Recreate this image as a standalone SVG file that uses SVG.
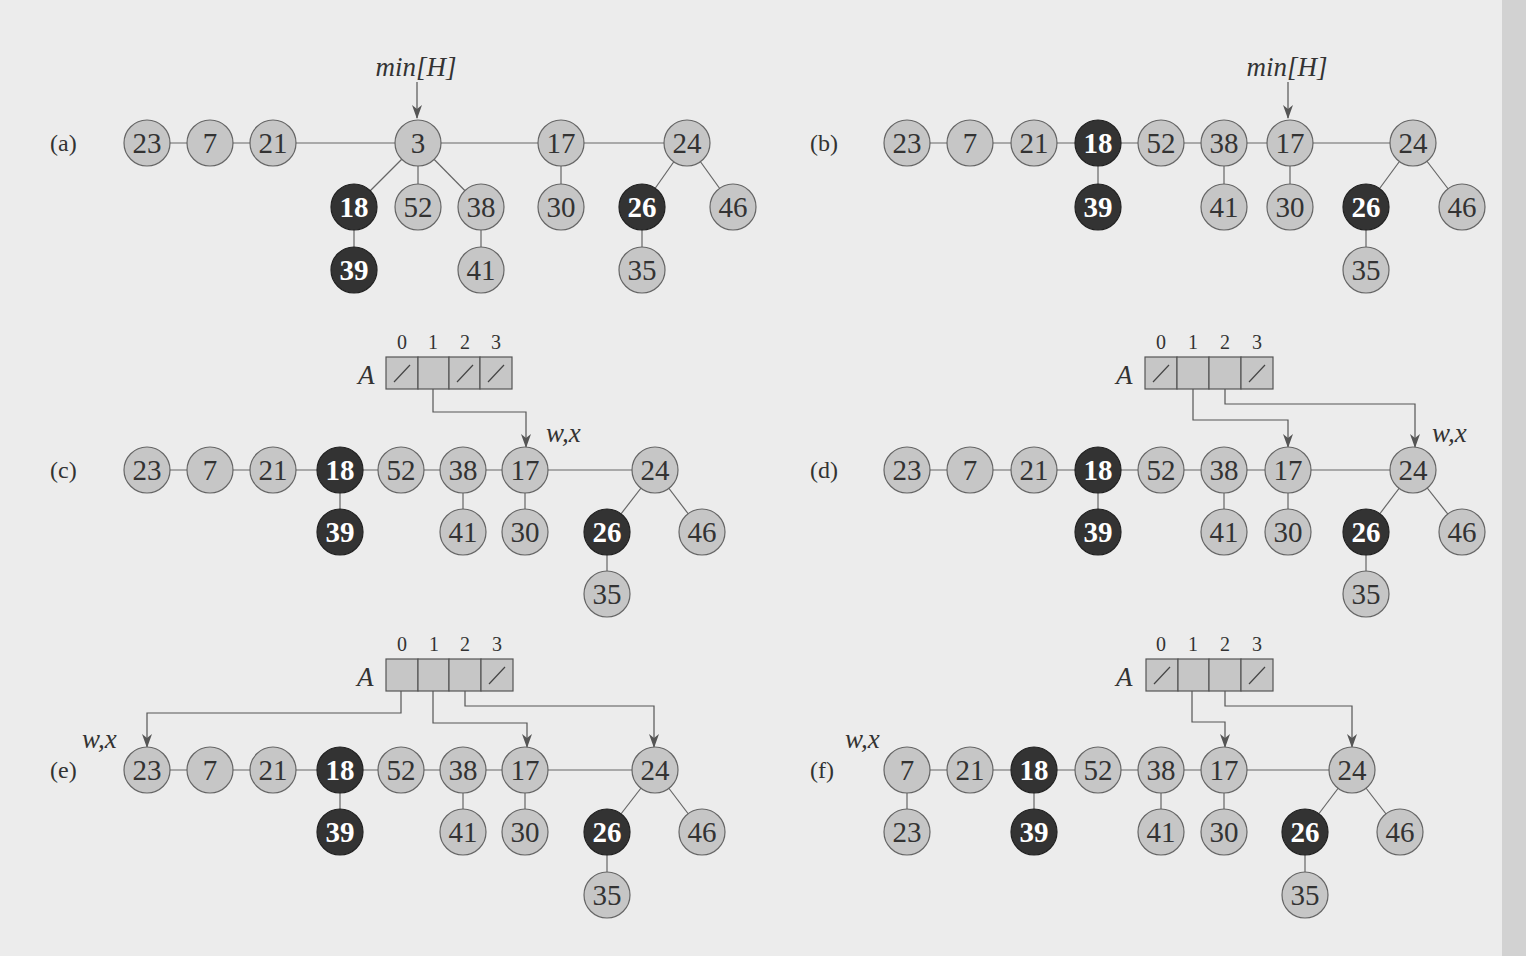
<svg xmlns="http://www.w3.org/2000/svg" width="1526" height="956" viewBox="0 0 1526 956">
<defs>
<marker id="ah" markerWidth="14" markerHeight="10" refX="13" refY="5" orient="auto" markerUnits="userSpaceOnUse" viewBox="0 0 14 10">
<path d="M0,0 L14,5 L0,10 L4,5 Z" fill="#555"/>
</marker>
<style>
.bg{fill:#ececec}
.n circle{fill:#c6c6c6;stroke:#666;stroke-width:1.2}
.n text{font-family:"Liberation Serif","Times New Roman",serif;font-size:29px;fill:#333;text-anchor:middle;dominant-baseline:central}
.d circle{fill:#333;stroke:#222;stroke-width:1.2}
.d text{font-family:"Liberation Serif","Times New Roman",serif;font-size:29px;font-weight:bold;fill:#fff;text-anchor:middle;dominant-baseline:central}
.e line{stroke:#666;stroke-width:1.2;fill:none}
.p{stroke:#555;stroke-width:1.2;fill:none;marker-end:url(#ah)}
.lbl{font-family:"Liberation Serif","Times New Roman",serif;font-size:24px;fill:#333;dominant-baseline:central}
.it{font-family:"Liberation Serif","Times New Roman",serif;font-size:27px;font-style:italic;fill:#333}
.idx{font-family:"Liberation Serif","Times New Roman",serif;font-size:20px;fill:#333;text-anchor:middle}
.cell{fill:#c6c6c6;stroke:#555;stroke-width:1.2}
.sl{stroke:#444;stroke-width:1.2}
</style>
</defs>
<rect class="bg" x="0" y="0" width="1526" height="956"/>
<rect x="1502" y="0" width="24" height="956" fill="#d2d2d2"/>

<g id="connectors" class="e">
<!-- (a) -->
<line x1="147" y1="143" x2="687" y2="143"/>
<line x1="418" y1="143" x2="354" y2="207"/>
<line x1="418" y1="143" x2="418" y2="207"/>
<line x1="418" y1="143" x2="481" y2="207"/>
<line x1="481" y1="207" x2="481" y2="270"/>
<line x1="354" y1="207" x2="354" y2="270"/>
<line x1="561" y1="143" x2="561" y2="207"/>
<line x1="687" y1="143" x2="642" y2="207"/>
<line x1="687" y1="143" x2="733" y2="207"/>
<line x1="642" y1="207" x2="642" y2="270"/>
<path class="p" d="M417,82 L417,118"/>
<!-- (b) -->
<line x1="907" y1="143" x2="1413" y2="143"/>
<line x1="1098" y1="143" x2="1098" y2="207"/>
<line x1="1224" y1="143" x2="1224" y2="207"/>
<line x1="1290" y1="143" x2="1290" y2="207"/>
<line x1="1413" y1="143" x2="1366" y2="207"/>
<line x1="1413" y1="143" x2="1462" y2="207"/>
<line x1="1366" y1="207" x2="1366" y2="270"/>
<path class="p" d="M1288,82 L1288,118"/>
<!-- (c) -->
<line x1="147" y1="470" x2="655" y2="470"/>
<line x1="340" y1="470" x2="340" y2="532"/>
<line x1="463" y1="470" x2="463" y2="532"/>
<line x1="525" y1="470" x2="525" y2="532"/>
<line x1="655" y1="470" x2="607" y2="532"/>
<line x1="655" y1="470" x2="702" y2="532"/>
<line x1="607" y1="532" x2="607" y2="594"/>
<path class="p" d="M433,374 L433,412 L526,412 L526,447"/>
<!-- (d) -->
<line x1="907" y1="470" x2="1413" y2="470"/>
<line x1="1098" y1="470" x2="1098" y2="532"/>
<line x1="1224" y1="470" x2="1224" y2="532"/>
<line x1="1288" y1="470" x2="1288" y2="532"/>
<line x1="1413" y1="470" x2="1366" y2="532"/>
<line x1="1413" y1="470" x2="1462" y2="532"/>
<line x1="1366" y1="532" x2="1366" y2="594"/>
<path class="p" d="M1193,374 L1193,420 L1288,420 L1288,447"/>
<path class="p" d="M1225,374 L1225,404 L1415,404 L1415,447"/>
<!-- (e) -->
<line x1="147" y1="770" x2="655" y2="770"/>
<line x1="340" y1="770" x2="340" y2="832"/>
<line x1="463" y1="770" x2="463" y2="832"/>
<line x1="525" y1="770" x2="525" y2="832"/>
<line x1="655" y1="770" x2="607" y2="832"/>
<line x1="655" y1="770" x2="702" y2="832"/>
<line x1="607" y1="832" x2="607" y2="895"/>
<path class="p" d="M401,675 L401,713 L147,713 L147,747"/>
<path class="p" d="M433,675 L433,723 L527,723 L527,747"/>
<path class="p" d="M465,675 L465,706 L654,706 L654,747"/>
<!-- (f) -->
<line x1="907" y1="770" x2="1352" y2="770"/>
<line x1="907" y1="770" x2="907" y2="832"/>
<line x1="1034" y1="770" x2="1034" y2="832"/>
<line x1="1161" y1="770" x2="1161" y2="832"/>
<line x1="1224" y1="770" x2="1224" y2="832"/>
<line x1="1352" y1="770" x2="1305" y2="832"/>
<line x1="1352" y1="770" x2="1400" y2="832"/>
<line x1="1305" y1="832" x2="1305" y2="895"/>
<path class="p" d="M1192,675 L1192,722 L1225,722 L1225,747"/>
<path class="p" d="M1225,675 L1225,706 L1352,706 L1352,747"/>
</g>

<g id="labels">
<text class="lbl" x="50" y="143">(a)</text>
<text class="lbl" x="810" y="143">(b)</text>
<text class="lbl" x="50" y="470">(c)</text>
<text class="lbl" x="810" y="470">(d)</text>
<text class="lbl" x="50" y="770">(e)</text>
<text class="lbl" x="810" y="770">(f)</text>
<text class="it" x="416" y="76" text-anchor="middle">min[H]</text>
<text class="it" x="1287" y="76" text-anchor="middle">min[H]</text>
<text class="it" x="546" y="442">w,x</text>
<text class="it" x="1432" y="442">w,x</text>
<text class="it" x="82" y="748">w,x</text>
<text class="it" x="845" y="748">w,x</text>
</g>

<g id="array-c">
<text class="it" x="358" y="384">A</text>
<text class="idx" x="402" y="349">0</text><text class="idx" x="433" y="349">1</text><text class="idx" x="465" y="349">2</text><text class="idx" x="496" y="349">3</text>
<rect class="cell" x="386" y="357" width="32" height="32"/><rect class="cell" x="418" y="357" width="31" height="32"/><rect class="cell" x="449" y="357" width="31" height="32"/><rect class="cell" x="480" y="357" width="32" height="32"/>
<line class="sl" x1="394" y1="382" x2="410" y2="365"/><line class="sl" x1="457" y1="382" x2="473" y2="365"/><line class="sl" x1="488" y1="382" x2="504" y2="365"/>
</g>
<g id="array-d">
<text class="it" x="1116" y="384">A</text>
<text class="idx" x="1161" y="349">0</text><text class="idx" x="1193" y="349">1</text><text class="idx" x="1225" y="349">2</text><text class="idx" x="1257" y="349">3</text>
<rect class="cell" x="1145" y="357" width="32" height="32"/><rect class="cell" x="1177" y="357" width="32" height="32"/><rect class="cell" x="1209" y="357" width="32" height="32"/><rect class="cell" x="1241" y="357" width="32" height="32"/>
<line class="sl" x1="1153" y1="382" x2="1169" y2="365"/><line class="sl" x1="1249" y1="382" x2="1265" y2="365"/>
</g>
<g id="array-e">
<text class="it" x="357" y="686">A</text>
<text class="idx" x="402" y="651">0</text><text class="idx" x="434" y="651">1</text><text class="idx" x="465" y="651">2</text><text class="idx" x="497" y="651">3</text>
<rect class="cell" x="386" y="659" width="32" height="32"/><rect class="cell" x="418" y="659" width="31" height="32"/><rect class="cell" x="449" y="659" width="32" height="32"/><rect class="cell" x="481" y="659" width="32" height="32"/>
<line class="sl" x1="489" y1="684" x2="505" y2="667"/>
</g>
<g id="array-f">
<text class="it" x="1116" y="686">A</text>
<text class="idx" x="1161" y="651">0</text><text class="idx" x="1193" y="651">1</text><text class="idx" x="1225" y="651">2</text><text class="idx" x="1257" y="651">3</text>
<rect class="cell" x="1146" y="659" width="32" height="32"/><rect class="cell" x="1178" y="659" width="31" height="32"/><rect class="cell" x="1209" y="659" width="32" height="32"/><rect class="cell" x="1241" y="659" width="32" height="32"/>
<line class="sl" x1="1154" y1="684" x2="1170" y2="667"/><line class="sl" x1="1249" y1="684" x2="1265" y2="667"/>
</g>

<g id="a23" class="n"><circle cx="147" cy="143" r="23"/><text x="147" y="143">23</text></g>
<g id="a7" class="n"><circle cx="210" cy="143" r="23"/><text x="210" y="143">7</text></g>
<g id="a21" class="n"><circle cx="273" cy="143" r="23"/><text x="273" y="143">21</text></g>
<g id="a3" class="n"><circle cx="418" cy="143" r="23"/><text x="418" y="143">3</text></g>
<g id="a17" class="n"><circle cx="561" cy="143" r="23"/><text x="561" y="143">17</text></g>
<g id="a24" class="n"><circle cx="687" cy="143" r="23"/><text x="687" y="143">24</text></g>
<g id="a18" class="d"><circle cx="354" cy="207" r="23"/><text x="354" y="207">18</text></g>
<g id="a52" class="n"><circle cx="418" cy="207" r="23"/><text x="418" y="207">52</text></g>
<g id="a38" class="n"><circle cx="481" cy="207" r="23"/><text x="481" y="207">38</text></g>
<g id="a30" class="n"><circle cx="561" cy="207" r="23"/><text x="561" y="207">30</text></g>
<g id="a26" class="d"><circle cx="642" cy="207" r="23"/><text x="642" y="207">26</text></g>
<g id="a46" class="n"><circle cx="733" cy="207" r="23"/><text x="733" y="207">46</text></g>
<g id="a39" class="d"><circle cx="354" cy="270" r="23"/><text x="354" y="270">39</text></g>
<g id="a41" class="n"><circle cx="481" cy="270" r="23"/><text x="481" y="270">41</text></g>
<g id="a35" class="n"><circle cx="642" cy="270" r="23"/><text x="642" y="270">35</text></g>

<g id="b23" class="n"><circle cx="907" cy="143" r="23"/><text x="907" y="143">23</text></g>
<g id="b7" class="n"><circle cx="970" cy="143" r="23"/><text x="970" y="143">7</text></g>
<g id="b21" class="n"><circle cx="1034" cy="143" r="23"/><text x="1034" y="143">21</text></g>
<g id="b18" class="d"><circle cx="1098" cy="143" r="23"/><text x="1098" y="143">18</text></g>
<g id="b52" class="n"><circle cx="1161" cy="143" r="23"/><text x="1161" y="143">52</text></g>
<g id="b38" class="n"><circle cx="1224" cy="143" r="23"/><text x="1224" y="143">38</text></g>
<g id="b17" class="n"><circle cx="1290" cy="143" r="23"/><text x="1290" y="143">17</text></g>
<g id="b24" class="n"><circle cx="1413" cy="143" r="23"/><text x="1413" y="143">24</text></g>
<g id="b39" class="d"><circle cx="1098" cy="207" r="23"/><text x="1098" y="207">39</text></g>
<g id="b41" class="n"><circle cx="1224" cy="207" r="23"/><text x="1224" y="207">41</text></g>
<g id="b30" class="n"><circle cx="1290" cy="207" r="23"/><text x="1290" y="207">30</text></g>
<g id="b26" class="d"><circle cx="1366" cy="207" r="23"/><text x="1366" y="207">26</text></g>
<g id="b46" class="n"><circle cx="1462" cy="207" r="23"/><text x="1462" y="207">46</text></g>
<g id="b35" class="n"><circle cx="1366" cy="270" r="23"/><text x="1366" y="270">35</text></g>

<g id="c23" class="n"><circle cx="147" cy="470" r="23"/><text x="147" y="470">23</text></g>
<g id="c7" class="n"><circle cx="210" cy="470" r="23"/><text x="210" y="470">7</text></g>
<g id="c21" class="n"><circle cx="273" cy="470" r="23"/><text x="273" y="470">21</text></g>
<g id="c18" class="d"><circle cx="340" cy="470" r="23"/><text x="340" y="470">18</text></g>
<g id="c52" class="n"><circle cx="401" cy="470" r="23"/><text x="401" y="470">52</text></g>
<g id="c38" class="n"><circle cx="463" cy="470" r="23"/><text x="463" y="470">38</text></g>
<g id="c17" class="n"><circle cx="525" cy="470" r="23"/><text x="525" y="470">17</text></g>
<g id="c24" class="n"><circle cx="655" cy="470" r="23"/><text x="655" y="470">24</text></g>
<g id="c39" class="d"><circle cx="340" cy="532" r="23"/><text x="340" y="532">39</text></g>
<g id="c41" class="n"><circle cx="463" cy="532" r="23"/><text x="463" y="532">41</text></g>
<g id="c30" class="n"><circle cx="525" cy="532" r="23"/><text x="525" y="532">30</text></g>
<g id="c26" class="d"><circle cx="607" cy="532" r="23"/><text x="607" y="532">26</text></g>
<g id="c46" class="n"><circle cx="702" cy="532" r="23"/><text x="702" y="532">46</text></g>
<g id="c35" class="n"><circle cx="607" cy="594" r="23"/><text x="607" y="594">35</text></g>

<g id="d23" class="n"><circle cx="907" cy="470" r="23"/><text x="907" y="470">23</text></g>
<g id="d7" class="n"><circle cx="970" cy="470" r="23"/><text x="970" y="470">7</text></g>
<g id="d21" class="n"><circle cx="1034" cy="470" r="23"/><text x="1034" y="470">21</text></g>
<g id="d18" class="d"><circle cx="1098" cy="470" r="23"/><text x="1098" y="470">18</text></g>
<g id="d52" class="n"><circle cx="1161" cy="470" r="23"/><text x="1161" y="470">52</text></g>
<g id="d38" class="n"><circle cx="1224" cy="470" r="23"/><text x="1224" y="470">38</text></g>
<g id="d17" class="n"><circle cx="1288" cy="470" r="23"/><text x="1288" y="470">17</text></g>
<g id="d24" class="n"><circle cx="1413" cy="470" r="23"/><text x="1413" y="470">24</text></g>
<g id="d39" class="d"><circle cx="1098" cy="532" r="23"/><text x="1098" y="532">39</text></g>
<g id="d41" class="n"><circle cx="1224" cy="532" r="23"/><text x="1224" y="532">41</text></g>
<g id="d30" class="n"><circle cx="1288" cy="532" r="23"/><text x="1288" y="532">30</text></g>
<g id="d26" class="d"><circle cx="1366" cy="532" r="23"/><text x="1366" y="532">26</text></g>
<g id="d46" class="n"><circle cx="1462" cy="532" r="23"/><text x="1462" y="532">46</text></g>
<g id="d35" class="n"><circle cx="1366" cy="594" r="23"/><text x="1366" y="594">35</text></g>

<g id="e23" class="n"><circle cx="147" cy="770" r="23"/><text x="147" y="770">23</text></g>
<g id="e7" class="n"><circle cx="210" cy="770" r="23"/><text x="210" y="770">7</text></g>
<g id="e21" class="n"><circle cx="273" cy="770" r="23"/><text x="273" y="770">21</text></g>
<g id="e18" class="d"><circle cx="340" cy="770" r="23"/><text x="340" y="770">18</text></g>
<g id="e52" class="n"><circle cx="401" cy="770" r="23"/><text x="401" y="770">52</text></g>
<g id="e38" class="n"><circle cx="463" cy="770" r="23"/><text x="463" y="770">38</text></g>
<g id="e17" class="n"><circle cx="525" cy="770" r="23"/><text x="525" y="770">17</text></g>
<g id="e24" class="n"><circle cx="655" cy="770" r="23"/><text x="655" y="770">24</text></g>
<g id="e39" class="d"><circle cx="340" cy="832" r="23"/><text x="340" y="832">39</text></g>
<g id="e41" class="n"><circle cx="463" cy="832" r="23"/><text x="463" y="832">41</text></g>
<g id="e30" class="n"><circle cx="525" cy="832" r="23"/><text x="525" y="832">30</text></g>
<g id="e26" class="d"><circle cx="607" cy="832" r="23"/><text x="607" y="832">26</text></g>
<g id="e46" class="n"><circle cx="702" cy="832" r="23"/><text x="702" y="832">46</text></g>
<g id="e35" class="n"><circle cx="607" cy="895" r="23"/><text x="607" y="895">35</text></g>

<g id="f7" class="n"><circle cx="907" cy="770" r="23"/><text x="907" y="770">7</text></g>
<g id="f21" class="n"><circle cx="970" cy="770" r="23"/><text x="970" y="770">21</text></g>
<g id="f18" class="d"><circle cx="1034" cy="770" r="23"/><text x="1034" y="770">18</text></g>
<g id="f52" class="n"><circle cx="1098" cy="770" r="23"/><text x="1098" y="770">52</text></g>
<g id="f38" class="n"><circle cx="1161" cy="770" r="23"/><text x="1161" y="770">38</text></g>
<g id="f17" class="n"><circle cx="1224" cy="770" r="23"/><text x="1224" y="770">17</text></g>
<g id="f24" class="n"><circle cx="1352" cy="770" r="23"/><text x="1352" y="770">24</text></g>
<g id="f23" class="n"><circle cx="907" cy="832" r="23"/><text x="907" y="832">23</text></g>
<g id="f39" class="d"><circle cx="1034" cy="832" r="23"/><text x="1034" y="832">39</text></g>
<g id="f41" class="n"><circle cx="1161" cy="832" r="23"/><text x="1161" y="832">41</text></g>
<g id="f30" class="n"><circle cx="1224" cy="832" r="23"/><text x="1224" y="832">30</text></g>
<g id="f26" class="d"><circle cx="1305" cy="832" r="23"/><text x="1305" y="832">26</text></g>
<g id="f46" class="n"><circle cx="1400" cy="832" r="23"/><text x="1400" y="832">46</text></g>
<g id="f35" class="n"><circle cx="1305" cy="895" r="23"/><text x="1305" y="895">35</text></g>
</svg>
